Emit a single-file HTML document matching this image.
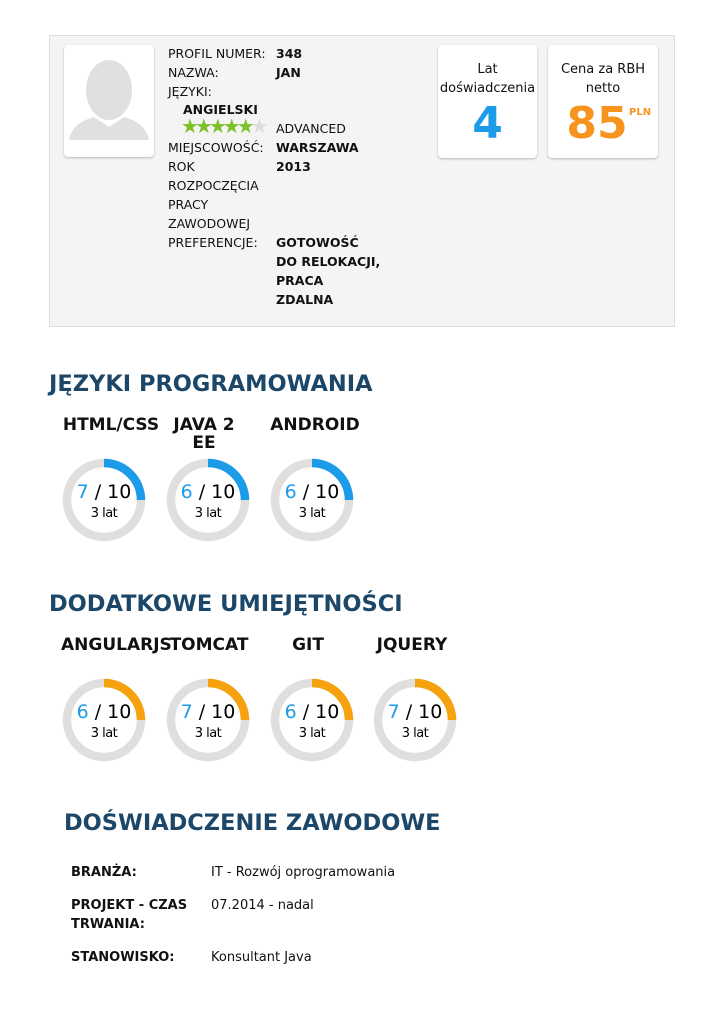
<!DOCTYPE html>
<html><head><meta charset="utf-8"><style>
body{margin:0;width:724px;height:1024px;background:#fff;font-family:"DejaVu Sans","Liberation Sans",sans-serif;position:relative;overflow:hidden;color:#111}
.a{position:absolute;white-space:nowrap}
.t{font-size:12.5px;line-height:19px}
.tt{font-size:13px;line-height:19px}
.b{font-weight:bold}
.card{position:absolute;background:#fff;border-radius:4px;box-shadow:0 1px 2px rgba(0,0,0,.25)}
h2{position:absolute;margin:0;font-size:22.5px;color:#1c4768;font-weight:bold;white-space:nowrap}
.sk{position:absolute;font-size:17px;font-weight:bold;text-align:center;width:110px;line-height:18px;white-space:nowrap}
</style></head><body>
<div style="position:absolute;left:49px;top:35px;width:624px;height:290px;background:#f4f4f4;border:1px solid #ddd"></div>
<div class="card" style="left:64px;top:45px;width:90px;height:112px">
<svg width="90" height="112"><ellipse cx="45" cy="45" rx="23" ry="30" fill="#e0e0e0"/><path d="M5 95 Q8 78 30 72 L45 82 L60 72 Q82 78 85 95 Z" fill="#e0e0e0"/></svg></div>
<div class="a t" style="left:168px;top:44px">PROFIL NUMER:<br>NAZWA:<br>JĘZYKI:</div>
<div class="a t b" style="left:276px;top:44px">348<br>JAN</div>
<div class="a t b" style="left:183px;top:100px">ANGIELSKI</div>
<div class="a" style="left:181px;top:114px;font-size:20px;letter-spacing:-4px;color:#7cc12a;line-height:24px">★★★★★<span style="color:#ddd">★</span></div>
<div class="a t" style="left:276px;top:119px">ADVANCED</div>
<div class="a t" style="left:168px;top:138px">MIEJSCOWOŚĆ:<br>ROK<br>ROZPOCZĘCIA<br>PRACY<br>ZAWODOWEJ<br>PREFERENCJE:</div>
<div class="a t b" style="left:276px;top:138px">WARSZAWA<br>2013<br><br><br><br>GOTOWOŚĆ<br>DO RELOKACJI,<br>PRACA<br>ZDALNA</div>
<div class="card" style="left:438px;top:45px;width:99px;height:113px;text-align:center">
<div style="font-size:13px;line-height:19px;margin-top:15px">Lat<br>doświadczenia</div>
<div style="font-size:44px;font-weight:bold;color:#1b9be8;line-height:44px;margin-top:4px">4</div></div>
<div class="card" style="left:548px;top:45px;width:110px;height:113px;text-align:center">
<div style="font-size:13px;line-height:19px;margin-top:15px">Cena za RBH<br>netto</div>
<div style="font-size:44px;font-weight:bold;color:#f7941d;line-height:44px;margin-top:4px;margin-left:-12px">85</div>
<div class="a" style="left:81px;top:62px;font-size:10px;font-weight:bold;color:#f7941d">PLN</div></div>

<h2 style="left:49px;top:371px">JĘZYKI PROGRAMOWANIA</h2>
<div class="sk" style="left:56px;top:416px">HTML/CSS</div>
<div class="sk" style="left:149px;top:416px">JAVA 2<br>EE</div>
<div class="sk" style="left:260px;top:416px">ANDROID</div>

<h2 style="left:49px;top:591px">DODATKOWE UMIEJĘTNOŚCI</h2>
<div class="sk" style="left:61px;top:636px">ANGULARJS</div>
<div class="sk" style="left:154px;top:636px">TOMCAT</div>
<div class="sk" style="left:253px;top:636px">GIT</div>
<div class="sk" style="left:357px;top:636px">JQUERY</div>

<svg class="a" style="left:0;top:0" width="724" height="1024">
<g fill="none" stroke-width="8.5">
<g stroke="#e0dfdd">
<circle cx="104" cy="500" r="37"/><circle cx="208" cy="500" r="37"/><circle cx="312" cy="500" r="37"/>
<circle cx="104" cy="720" r="37"/><circle cx="208" cy="720" r="37"/><circle cx="312" cy="720" r="37"/><circle cx="415" cy="720" r="37"/>
</g>
<g stroke="#1b9be8">
<path d="M104 463 A37 37 0 0 1 141 500"/><path d="M208 463 A37 37 0 0 1 245 500"/><path d="M312 463 A37 37 0 0 1 349 500"/></g>
<g stroke="#f5a20e">
<path d="M104 683 A37 37 0 0 1 141 720"/><path d="M208 683 A37 37 0 0 1 245 720"/><path d="M312 683 A37 37 0 0 1 349 720"/><path d="M415 683 A37 37 0 0 1 452 720"/></g>
</g>
<g font-family="DejaVu Sans, sans-serif" text-anchor="middle">
<g font-size="19"><text x="104" y="498"><tspan fill="#1b9be8">7</tspan> / 10</text><text x="208" y="498"><tspan fill="#1b9be8">6</tspan> / 10</text><text x="312" y="498"><tspan fill="#1b9be8">6</tspan> / 10</text>
<text x="104" y="718"><tspan fill="#1b9be8">6</tspan> / 10</text><text x="208" y="718"><tspan fill="#1b9be8">7</tspan> / 10</text><text x="312" y="718"><tspan fill="#1b9be8">6</tspan> / 10</text><text x="415" y="718"><tspan fill="#1b9be8">7</tspan> / 10</text></g>
<g font-size="13" letter-spacing="-0.5"><text x="104" y="517">3 lat</text><text x="208" y="517">3 lat</text><text x="312" y="517">3 lat</text>
<text x="104" y="737">3 lat</text><text x="208" y="737">3 lat</text><text x="312" y="737">3 lat</text><text x="415" y="737">3 lat</text></g>
</g></svg>

<h2 style="left:64px;top:810px">DOŚWIADCZENIE ZAWODOWE</h2>
<div class="a tt b" style="left:71px;top:863px">BRANŻA:</div>
<div class="a tt" style="left:211px;top:863px">IT - Rozwój oprogramowania</div>
<div class="a tt b" style="left:71px;top:896px">PROJEKT - CZAS<br>TRWANIA:</div>
<div class="a tt" style="left:211px;top:896px">07.2014 - nadal</div>
<div class="a tt b" style="left:71px;top:948px">STANOWISKO:</div>
<div class="a tt" style="left:211px;top:948px">Konsultant Java</div>
</body></html>
